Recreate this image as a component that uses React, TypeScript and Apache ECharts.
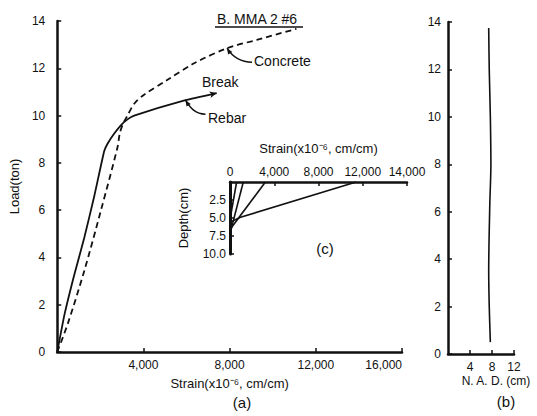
import React, { useEffect, useRef } from "react";
import * as echarts from "echarts";

// Panel (a): load vs strain
const rebarStrain = [0, 340, 800, 1260, 1720, 2180, 2340, 2645, 2950, 3260, 3570, 5950, 7400];
const rebarLoad = [0, 1.6, 3.3, 4.85, 6.6, 8.5, 8.82, 9.24, 9.59, 9.84, 10.0, 10.65, 10.95];
const concreteStrain = [0, 490, 1260, 2030, 2800, 2900, 3050, 3260, 3570, 4015, 5100, 6330, 7880, 9260, 11100];
const concreteLoad = [0, 1.2, 3.45, 6.0, 8.67, 9.24, 9.65, 10.0, 10.5, 10.87, 11.5, 12.2, 12.85, 13.2, 13.67];

// Panel (b): neutral axis depth vs load
const nadDepth = [7.7, 7.5, 7.4, 7.6, 7.8, 7.7, 7.5, 7.4];
const nadLoad = [0.5, 2, 3.5, 6.3, 8, 10, 12, 13.75];

// Panel (c): strain profiles over depth
const profileStrain = [[600, 0], [1200, 0], [3200, 0], [11400, 950, 0]];
const profileDepth = [[0, 5.2], [0, 7.2], [0, 6.6], [0, 4.9, 5.6]];

// Tick labels
const insetXTickLabels = ["0", "4,000", "8,000", "12,000", "14,000"];
const insetYTickLabels = ["0", "2.5", "5.0", "7.5", "10.0"];

const FONT = "Liberation Sans";
const INK = "#111";

const zip = (xs: number[], ys: number[]) => xs.map((x, i) => [x, ys[i]]);

export default function App() {
  const ref = useRef<HTMLDivElement>(null);
  useEffect(() => {
    document.body.style.margin = "0";
    const chart = echarts.init(ref.current!, null, { renderer: "svg" });
    const axisLine = { show: true, onZero: false, lineStyle: { color: INK, width: 2.5 } };
    const axisTick = { show: true, inside: true, length: 4, lineStyle: { color: INK, width: 1.5 } };
    const labelStyle = { color: INK, fontFamily: FONT, fontSize: 12 };
    const nameStyle = { color: INK, fontFamily: FONT, fontSize: 13 };

    const rebarData: any[] = zip(rebarStrain, rebarLoad);
    const last = rebarData.length - 1;
    rebarData[last] = {
      value: rebarData[last],
      symbol: "arrow",
      symbolSize: [5, 7],
      symbolRotate: -77,
      itemStyle: { color: INK },
    };

    const profileSeries = profileStrain.map((s, i) => ({
      type: "line",
      xAxisIndex: 1,
      yAxisIndex: 1,
      data: zip(s, profileDepth[i]),
      symbol: "none",
      lineStyle: { color: INK, width: 1.6 },
    }));

    chart.setOption({
      animation: false,
      backgroundColor: "#fff",
      grid: [
        { left: 56, top: 21, width: 346, height: 331 },
        { left: 230, top: 182, width: 177, height: 72 },
        { left: 448, top: 22, width: 66, height: 332 },
      ],
      xAxis: [
        {
          gridIndex: 0, type: "value", min: 0, max: 16000, interval: 4000,
          axisLine, axisTick, splitLine: { show: false },
          axisLabel: { ...labelStyle, margin: 7, showMinLabel: false, alignMaxLabel: "right",
            formatter: (v: number) => v.toLocaleString("en-US") },
          name: "Strain(x10⁻⁶, cm/cm)", nameLocation: "middle", nameGap: 25, nameTextStyle: nameStyle,
        },
        {
          gridIndex: 1, type: "value", position: "top", min: 0, max: 16000, interval: 4000,
          axisLine, axisTick, splitLine: { show: false },
          axisLabel: { ...labelStyle, margin: 4,
            formatter: (v: number) => insetXTickLabels[Math.round(v / 4000)] },
          name: "Strain(x10⁻⁶, cm/cm)", nameLocation: "middle", nameGap: 27, nameTextStyle: nameStyle,
        },
        {
          gridIndex: 2, type: "value", min: 0, max: 12, interval: 4,
          axisLine, axisTick, splitLine: { show: false },
          axisLabel: { ...labelStyle, margin: 7, showMinLabel: false },
        },
      ],
      yAxis: [
        {
          gridIndex: 0, type: "value", min: 0, max: 14, interval: 2,
          axisLine, axisTick, splitLine: { show: false },
          axisLabel: { ...labelStyle, margin: 12 },
          name: "Load(ton)", nameLocation: "middle", nameGap: 30, nameTextStyle: nameStyle,
        },
        {
          gridIndex: 1, type: "value", inverse: true, min: 0, max: 10, interval: 2.5,
          axisLine: { ...axisLine, lineStyle: { color: INK, width: 3 } }, axisTick, splitLine: { show: false },
          axisLabel: { ...labelStyle, margin: 4, showMinLabel: false,
            formatter: (v: number) => insetYTickLabels[Math.round(v / 2.5)] },
          name: "Depth(cm)", nameLocation: "middle", nameGap: 40, nameTextStyle: nameStyle,
        },
        {
          gridIndex: 2, type: "value", min: 0, max: 14, interval: 2,
          axisLine, axisTick, splitLine: { show: false },
          axisLabel: { ...labelStyle, margin: 7 },
        },
      ],
      series: [
        {
          type: "line", xAxisIndex: 0, yAxisIndex: 0, data: rebarData, symbol: "none",
          smooth: 0.15, lineStyle: { color: INK, width: 1.8 },
        },
        {
          type: "line", xAxisIndex: 0, yAxisIndex: 0, data: zip(concreteStrain, concreteLoad), symbol: "none",
          smooth: 0.3, lineStyle: { color: INK, width: 1.8, type: [6, 4] },
        },
        {
          type: "line", xAxisIndex: 2, yAxisIndex: 2, data: zip(nadDepth, nadLoad), symbol: "none",
          smooth: 0.3, lineStyle: { color: INK, width: 1.6 },
        },
        ...profileSeries,
      ],
    });

    const px = (g: number, p: number[]) => chart.convertToPixel({ gridIndex: g } as any, p) as number[];
    const arrowHead = (tip: number[], toward: number[]) => {
      const dx = toward[0] - tip[0], dy = toward[1] - tip[1];
      const L = Math.hypot(dx, dy) || 1;
      const ux = dx / L, uy = dy / L;
      const nx = -uy, ny = ux;
      return {
        type: "polygon",
        shape: { points: [tip, [tip[0] + ux * 6 + nx * 2.5, tip[1] + uy * 6 + ny * 2.5], [tip[0] + ux * 6 - nx * 2.5, tip[1] + uy * 6 - ny * 2.5]] },
        style: { fill: INK },
      };
    };
    const cP = px(0, [7880, 12.85]);
    const cEnd = [cP[0] + 25, cP[1] + 14];
    const cC1 = [cP[0] + 5, cP[1] + 8];
    const rP = px(0, [5950, 10.65]);
    const rEnd = [rP[0] + 20, rP[1] + 14];
    const rC1 = [rP[0] + 5, rP[1] + 8];
    const txt = (text: string, x: number, y: number, size = 14, align = "left") => ({
      type: "text", x, y,
      style: { text, fill: INK, font: `${size}px "${FONT}"`, textAlign: align, textVerticalAlign: "middle" },
    });
    chart.setOption({
      graphic: [
        txt("B. MMA 2 #6", 217, 19),
        { type: "line", shape: { x1: 215, y1: 27, x2: 303, y2: 27 }, style: { stroke: INK, lineWidth: 1.5 } },
        txt("Concrete", 254, 61),
        txt("Break", 202, 82),
        txt("Rebar", 208, 118),
        { type: "bezierCurve", shape: { x1: cP[0], y1: cP[1], cpx1: cC1[0], cpy1: cC1[1], cpx2: cEnd[0] - 12, cpy2: cEnd[1], x2: cEnd[0], y2: cEnd[1] }, style: { stroke: INK, lineWidth: 1.5, fill: "none" } },
        arrowHead(cP, cC1),
        { type: "bezierCurve", shape: { x1: rP[0], y1: rP[1], cpx1: rC1[0], cpy1: rC1[1], cpx2: rEnd[0] - 10, cpy2: rEnd[1], x2: rEnd[0], y2: rEnd[1] }, style: { stroke: INK, lineWidth: 1.5, fill: "none" } },
        arrowHead(rP, rC1),
        txt("(a)", 242, 402, 15, "center"),
        txt("(c)", 325, 248, 15, "center"),
        txt("N. A. D. (cm)", 496, 381, 12, "center"),
        txt("(b)", 506, 401, 15, "center"),
      ],
    });
    return () => chart.dispose();
  }, []);
  return <div ref={ref} style={{ position: "absolute", left: 0, top: 0, width: 537, height: 416 }} />;
}
